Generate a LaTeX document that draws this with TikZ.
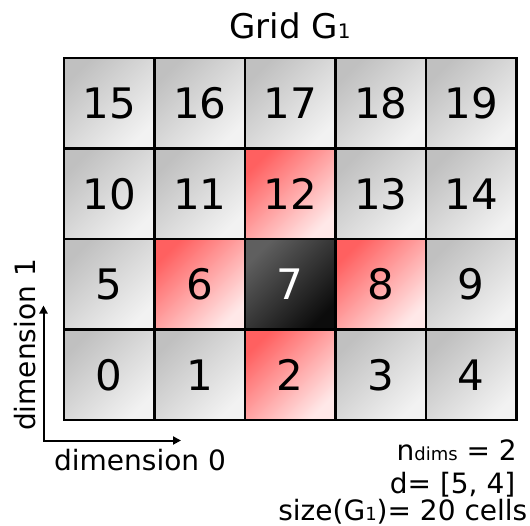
\documentclass[tikz,border=0pt]{standalone}
\usepackage{fontspec}
\setmainfont{DejaVu Sans}
\usetikzlibrary{arrows.meta}
\definecolor{gtl}{RGB}{192,192,192}
\definecolor{gbr}{RGB}{242,242,242}
\definecolor{rtl}{RGB}{255,96,96}
\definecolor{rbr}{RGB}{255,232,232}
\definecolor{ktl}{RGB}{95,95,95}
\definecolor{kbr}{RGB}{12,12,12}
\newcommand{\subtxt}[2]{{\fontsize{#1}{#1}\selectfont #2}}
\tikzset{
  cell/.style={draw=black, line width=2.5pt, minimum width=90.5pt, minimum height=90.5pt,
    inner sep=0pt, font=\fontsize{42pt}{50pt}\selectfont},
  graycell/.style={cell, top color=gtl, bottom color=gbr, shading angle=45},
  redcell/.style={cell, top color=rtl, bottom color=rbr, shading angle=45},
  blackcell/.style={cell, top color=ktl, bottom color=kbr, shading angle=45, text=white},
  lbl/.style={inner sep=0pt, font=\fontsize{28pt}{32pt}\selectfont},
  axisline/.style={line width=2pt, {Triangle[length=8pt,width=8pt]}-{Triangle[length=8pt,width=8pt]}}
}
\begin{document}
\begin{tikzpicture}[x=1pt, y=-1pt]
\useasboundingbox (0,0) rectangle (530,525);
% row 3
\node[graycell] (c15) at (109.25,103.25) {15};
\node[graycell] (c16) at (199.75,103.25) {16};
\node[graycell] (c17) at (290.25,103.25) {17};
\node[graycell] (c18) at (380.75,103.25) {18};
\node[graycell] (c19) at (471.25,103.25) {19};
% row 2
\node[graycell] (c10) at (109.25,193.75) {10};
\node[graycell] (c11) at (199.75,193.75) {11};
\node[redcell]  (c12) at (290.25,193.75) {12};
\node[graycell] (c13) at (380.75,193.75) {13};
\node[graycell] (c14) at (471.25,193.75) {14};
% row 1
\node[graycell] (c5) at (109.25,284.25) {5};
\node[redcell]  (c6) at (199.75,284.25) {6};
\node[blackcell] (c7) at (290.25,284.25) {7};
\node[redcell]  (c8) at (380.75,284.25) {8};
\node[graycell] (c9) at (471.25,284.25) {9};
% row 0
\node[graycell] (c0) at (109.25,374.75) {0};
\node[graycell] (c1) at (199.75,374.75) {1};
\node[redcell]  (c2) at (290.25,374.75) {2};
\node[graycell] (c3) at (380.75,374.75) {3};
\node[graycell] (c4) at (471.25,374.75) {4};
% title
\node[inner sep=0pt, anchor=base, font=\fontsize{34pt}{40pt}\selectfont] (title) at (290,38) {Grid G\subtxt{20pt}{1}};
% axes
\coordinate (orig) at (43.5,440.5);
\coordinate (xend) at (181,440.5);
\coordinate (yend) at (43.5,305.5);
\draw[axisline] (yend) -- (orig) -- (xend);
\node[lbl, anchor=base] (dim0) at (140,470.5) {dimension 0};
\node[lbl, anchor=base, rotate=90] (dim1) at (35,345) {dimension 1};
% info
\node[lbl, anchor=base east] (ndims) at (517,460) {n\subtxt{18pt}{dims} = 2};
\node[lbl, anchor=base east] (dvec) at (515.5,493) {d= [5, 4]};
\node[lbl, anchor=base east] (gsize) at (527.5,520) {size(G\subtxt{18pt}{1})= 20 cells};
\end{tikzpicture}
\end{document}
